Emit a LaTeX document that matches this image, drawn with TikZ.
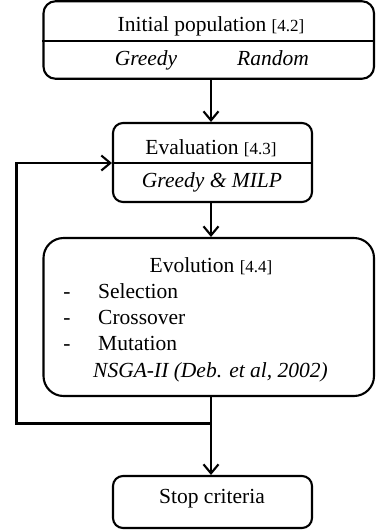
\documentclass[tikz,border=0pt]{standalone}
\usepackage{fontspec}
\setmainfont{Liberation Serif}
\usetikzlibrary{arrows.meta}
\tikzset{
  box/.style={draw, line width=2.1pt, inner sep=0pt},
  lbl/.style={anchor=base, inner sep=0pt, font=\fontsize{21.5}{24}\selectfont},
  ilbl/.style={lbl, font=\fontsize{21.5}{24}\selectfont\itshape},
  conn/.style={line width=2.1pt},
  arr/.style={conn, -{Straight Barb[length=9pt,width=15pt,line width=2.1pt]}}
}
\begin{document}
\begin{tikzpicture}[x=1pt,y=-1pt]
\useasboundingbox (0,0) rectangle (376,531);
% boxes
\node[box, rounded corners=12pt, minimum width=330.5pt, minimum height=77.5pt] (init) at (208.75,40) {};
\node[box, rounded corners=10pt, minimum width=199pt, minimum height=79pt] (eval) at (212.5,162.5) {};
\node[box, rounded corners=20pt, minimum width=330.5pt, minimum height=158pt] (evo) at (208.75,317) {};
\node[box, rounded corners=10pt, minimum width=199pt, minimum height=52pt] (stop) at (212.5,502) {};
% dividers
\coordinate (d1) at (0,41);
\coordinate (d2) at (0,163);
\draw[conn] (init.west |- d1) -- (init.east |- d1);
\draw[conn] (eval.west |- d2) -- (eval.east |- d2);
% texts
\node[lbl] (t1) at (211,31) {Initial population {\fontsize{17}{20}\selectfont[4.2]}};
\node[ilbl] (t1a) at (146,65) {Greedy};
\node[ilbl] (t1b) at (273,65) {Random};
\node[lbl] (t2) at (211,154) {Evaluation {\fontsize{17}{20}\selectfont[4.3]}};
\node[ilbl] (t2a) at (212,187) {Greedy \& MILP};
\node[lbl] (t3) at (211,272) {Evolution {\fontsize{17}{20}\selectfont[4.4]}};
\node[lbl, anchor=base west] (s1) at (98,298) {Selection};
\node[lbl, anchor=base west] (s2) at (98,324) {Crossover};
\node[lbl, anchor=base west] (s3) at (98,350) {Mutation};
\node[lbl] (b1) at (67,298) {-};
\node[lbl] (b2) at (67,324) {-};
\node[lbl] (b3) at (67,350) {-};
\node[ilbl, anchor=base west] (nsga) at (93,377) {NSGA-II (Deb. et al, 2002)};
\node[lbl] (t4) at (212,503) {Stop criteria};
% connectors
\coordinate (a1) at (211,0);
\draw[arr] (init.south -| a1) -- (eval.north -| a1);
\draw[arr] (eval.south -| a1) -- (evo.north -| a1);
\draw[arr] (evo.south -| a1) -- (stop.north -| a1);
\coordinate (fb) at (211.5,423.5);
\coordinate (lft) at (16.5,423.5);
\draw[arr] (fb) -- (lft) |- (eval.west |- d2);
\end{tikzpicture}
\end{document}
